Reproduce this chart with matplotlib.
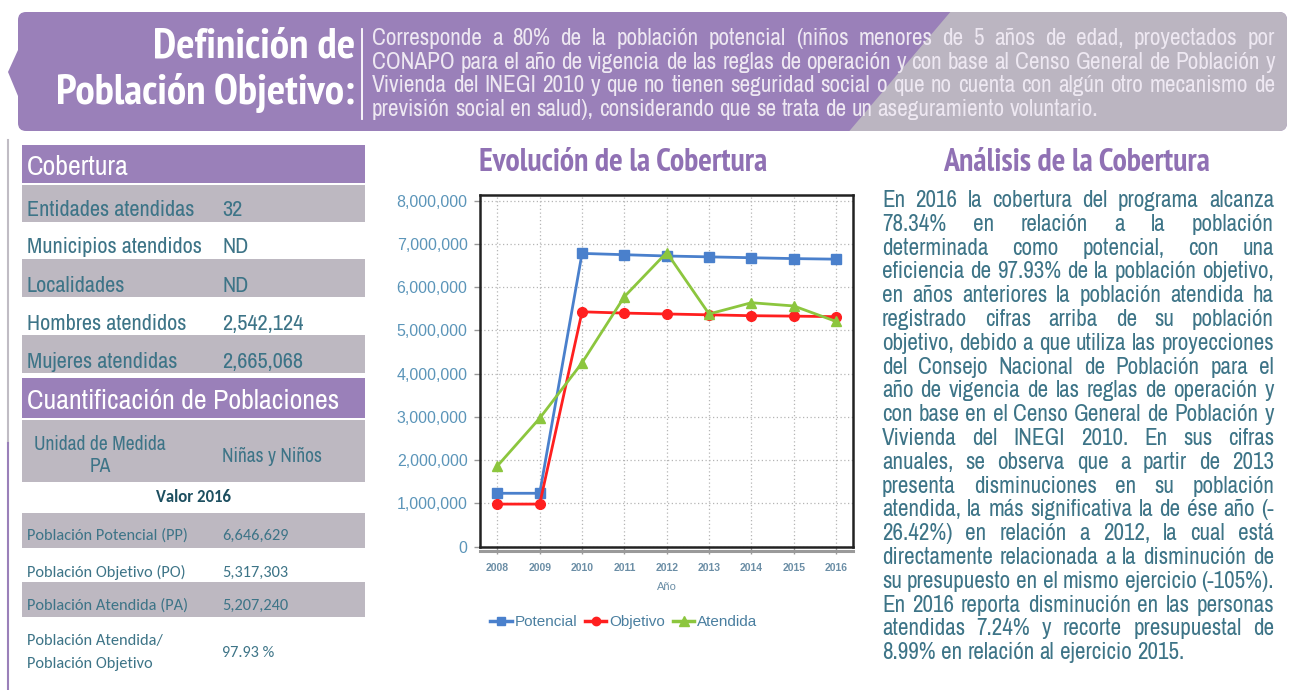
import matplotlib
matplotlib.use('Agg')
import matplotlib.pyplot as plt
from matplotlib import font_manager as fm
from matplotlib.font_manager import FontProperties
from matplotlib.patches import FancyBboxPatch, Polygon, Rectangle
from matplotlib.lines import Line2D
from matplotlib.ticker import FuncFormatter

# ---------------- data ----------------
years = [2008, 2009, 2010, 2011, 2012, 2013, 2014, 2015, 2016]
potencial = [1235000, 1235000, 6780000, 6750000, 6720000, 6700000, 6680000, 6660000, 6646629]
objetivo = [985000, 985000, 5430000, 5400000, 5380000, 5360000, 5340000, 5330000, 5317303]
atendida = [1866000, 2970000, 4250000, 5780000, 6800000, 5380000, 5640000, 5565000, 5207240]
series_names = ['Potencial', 'Objetivo', 'Atendida']
y_ticks = [0, 1000000, 2000000, 3000000, 4000000, 5000000, 6000000, 7000000, 8000000]

cobertura_labels = ['Entidades atendidas', 'Municipios atendidos', 'Localidades',
                    'Hombres atendidos', 'Mujeres atendidas']
cobertura_values = ['32', 'ND', 'ND', '2,542,124', '2,665,068']
cuant_labels = ['Población Potencial (PP)', 'Población Objetivo (PO)',
                'Población Atendida (PA)', 'Población Atendida/\nPoblación Objetivo']
cuant_values = ['6,646,629', '5,317,303', '5,207,240', '97.93 %']

header_title = ['Definición de', 'Población Objetivo:']
header_lines = [
    'Corresponde a 80% de la población potencial (niños menores de 5 años de edad, proyectados por',
    'CONAPO para el año de vigencia de las reglas de operación y con base al Censo General de Población y',
    'Vivienda del INEGI 2010 y que no tienen seguridad social o que no cuenta con algún otro mecanismo de',
    'previsión social en salud), considerando que se trata de un aseguramiento voluntario.',
]
analysis_lines = [
    'En 2016 la cobertura del programa alcanza',
    '78.34% en relación a la población',
    'determinada como potencial, con una',
    'eficiencia de 97.93% de la población objetivo,',
    'en años anteriores la población atendida ha',
    'registrado cifras arriba de su población',
    'objetivo, debido a que utiliza las proyecciones',
    'del Consejo Nacional de Población para el',
    'año de vigencia de las reglas de operación y',
    'con base en el Censo General de Población y',
    'Vivienda del INEGI 2010. En sus cifras',
    'anuales, se observa que a partir de 2013',
    'presenta disminuciones en su población',
    'atendida, la más significativa la de ése año (-',
    '26.42%) en relación a 2012, la cual está',
    'directamente relacionada a la disminución de',
    'su presupuesto en el mismo ejercicio (-105%).',
    'En 2016 reporta disminución en las personas',
    'atendidas 7.24% y recorte presupuestal de',
    '8.99% en relación al ejercicio 2015.',
]

# ---------------- fonts ----------------
def _w(v):
    if isinstance(v, (int, float)):
        return v
    return {'bold': 700, 'heavy': 800, 'black': 900, 'demibold': 600, 'semibold': 600}.get(str(v), 400)


fonts = {}
for f in fm.fontManager.ttflist:
    fonts.setdefault(f.name, set()).add(_w(f.weight))


def pick(*names, bold=False):
    for n in names:
        if n in fonts and (not bold or max(fonts[n]) >= 700):
            return n
    return 'DejaVu Sans'


NARROW_LIST = ('Liberation Sans Narrow', 'Arial Narrow', 'Archivo Narrow', 'PT Sans Narrow',
               'Roboto Condensed', 'IBM Plex Sans Condensed', 'Fira Sans Condensed',
               'Encode Sans Condensed', 'Liberation Sans')
NARROW = pick(*NARROW_LIST)
NARROW_B = pick(*NARROW_LIST, bold=True)
ARIAL = pick('Liberation Sans', 'Arimo', 'Roboto')
CALIBRI = pick('Carlito', 'Calibri', 'Lato', 'Open Sans')
CALIBRI_B = pick('Carlito', 'Calibri', 'Lato', 'Open Sans', bold=True)

# ---------------- colours ----------------
PURPLE = '#9a80b9'
GRAYROW = '#bdb8c1'
TEAL = '#3d7487'
HEADTXT = '#eee8f2'
TITLEPURPLE = '#9071b4'
BLUE = '#4a80cc'
RED = '#ff1f1f'
GREEN = '#8cc63e'
AXTXT = '#5b95b9'

W, H = 1290, 690
fig = plt.figure(figsize=(W / 100, H / 100), dpi=100)
bg = fig.add_axes([0, 0, 1, 1])
bg.set_xlim(0, W)
bg.set_ylim(H, 0)
bg.axis('off')
bg.set_zorder(0)
renderer = fig.canvas.get_renderer()


def width_of(s, size, family, weight='normal'):
    t = bg.text(0, 0, s, fontsize=size, family=family, weight=weight)
    w = t.get_window_extent(renderer).width
    t.remove()
    return w


def fit(s, target, family, weight='normal'):
    return 20.0 * target / width_of(s, 20.0, family, weight)


def justify(line, x0, x1, y, size, family, color, last=False):
    words = line.split()
    ws = [width_of(w, size, family) for w in words]
    if last or len(words) == 1:
        gap = width_of('a a', size, family) - width_of('aa', size, family)
    else:
        gap = (x1 - x0 - sum(ws)) / (len(words) - 1)
    x = x0
    for w, wd in zip(words, ws):
        bg.text(x, y, w, fontsize=size, family=family, color=color, va='baseline', ha='left')
        x += wd + gap


# ---------------- header ----------------
box = FancyBboxPatch((18, 12), 1287 - 18, 119, boxstyle='round,pad=0,rounding_size=8',
                     fc=PURPLE, ec='none', zorder=1)
bg.add_patch(box)
bg.add_patch(Polygon([(18, 50), (8, 72), (18, 96)], closed=True, fc=PURPLE, ec='none', zorder=1))
grey = Polygon([(952, 10), (1295, 10), (1295, 135), (846, 135)], closed=True, fc='#bbb5c1', ec='none', zorder=1.5)
bg.add_patch(grey)
grey.set_clip_path(box)

tsize = fit(header_title[1], 300, NARROW_B, 'bold')
tprop = FontProperties(family=NARROW_B, weight='bold', size=tsize)
_, lp_h, lp_d = renderer.get_text_width_height_descent('lp', tprop, ismath=False)
lsp = 36.0 / (lp_h - lp_d)
bg.text(355, 104, '\n'.join(header_title), fontproperties=tprop, color='white',
        ha='right', va='baseline', multialignment='right', linespacing=lsp, zorder=3)
bg.plot([362, 362], [29, 119], color='white', lw=1.3, zorder=3)

hsize = min(fit(l, 900, NARROW) for l in header_lines[:3])
for i, l in enumerate(header_lines):
    justify(l, 372, 1275, 45 + i * 23.6, hsize, NARROW, HEADTXT, last=(i == 3))

# ---------------- left panel ----------------
bg.plot([8, 8], [140, 443], color='#c0bcc4', lw=1.5)
bg.plot([8, 8], [443, 690], color=PURPLE, lw=1.5)

X0, X1 = 22, 365
bg.add_patch(Rectangle((X0, 145), X1 - X0, 38, fc=PURPLE, ec='none'))
hs = fit('Cuantificación de Poblaciones', 313, NARROW)
bg.text(27, 175, 'Cobertura', fontsize=hs, family=NARROW, color='white', va='baseline')

row_tops = [185, 222, 259, 297, 335]
row_bot = [222, 259, 297, 335, 373]
row_base = [216, 253, 292, 330, 368]
ls = fit('Entidades atendidas', 168, NARROW)
for i, (lab, val) in enumerate(zip(cobertura_labels, cobertura_values)):
    if i % 2 == 0:
        bg.add_patch(Rectangle((X0, row_tops[i]), X1 - X0, row_bot[i] - row_tops[i], fc=GRAYROW, ec='none'))
    bg.text(27, row_base[i], lab, fontsize=ls, family=NARROW, color=TEAL, va='baseline')
    bg.text(222, row_base[i], val, fontsize=ls, family=NARROW, color=TEAL, va='baseline')

bg.add_patch(Rectangle((X0, 378), X1 - X0, 40, fc=PURPLE, ec='none'))
bg.text(27, 409, 'Cuantificación de Poblaciones', fontsize=hs, family=NARROW, color='white', va='baseline')

bg.add_patch(Rectangle((X0, 420), X1 - X0, 62, fc=GRAYROW, ec='none'))
us = fit('Unidad de Medida', 132, NARROW)
bg.text(100, 450, 'Unidad de Medida', fontsize=us, family=NARROW, color=TEAL, va='baseline', ha='center')
bg.text(100, 472, 'PA', fontsize=us, family=NARROW, color=TEAL, va='baseline', ha='center')
bg.text(222, 462, 'Niñas y Niños', fontsize=fit('Niñas y Niños', 100, NARROW), family=NARROW,
        color=TEAL, va='baseline')
bg.text(194, 502, 'Valor 2016', fontsize=fit('Valor 2016', 75, CALIBRI_B, 'bold'), family=CALIBRI_B,
        weight='bold', color='#1d4f60', va='baseline', ha='center')

cs = fit('Población Potencial (PP)', 161, CALIBRI)
c_tops = [513, 548, 582]
c_bots = [548, 582, 617]
c_base = [540, 577, 610]
for i in range(3):
    if i % 2 == 0:
        bg.add_patch(Rectangle((X0, c_tops[i]), X1 - X0, c_bots[i] - c_tops[i], fc=GRAYROW, ec='none'))
    bg.text(27, c_base[i], cuant_labels[i], fontsize=cs, family=CALIBRI, color=TEAL, va='baseline')
    bg.text(222, c_base[i], cuant_values[i], fontsize=cs, family=CALIBRI, color=TEAL, va='baseline')
l1, l2 = cuant_labels[3].split('\n')
bg.text(27, 645, l1, fontsize=cs, family=CALIBRI, color=TEAL, va='baseline')
bg.text(27, 668, l2, fontsize=cs, family=CALIBRI, color=TEAL, va='baseline')
bg.text(222, 657, cuant_values[3], fontsize=cs, family=CALIBRI, color=TEAL, va='baseline')

# ---------------- titles ----------------
ts = fit('Evolución de la Cobertura', 290, NARROW_B, 'bold')
bg.text(623, 171, 'Evolución de la Cobertura', fontsize=ts, family=NARROW_B, weight='bold',
        color=TITLEPURPLE, ha='center', va='baseline')
bg.text(1077, 171, 'Análisis de la Cobertura', fontsize=ts, family=NARROW_B, weight='bold',
        color=TITLEPURPLE, ha='center', va='baseline')

# ---------------- analysis paragraph ----------------
asz = min(fit(l, 392, NARROW) for l in analysis_lines[:-1])
for i, l in enumerate(analysis_lines):
    justify(l, 882, 1274, 207 + i * 23.8, asz, NARROW, TEAL, last=(i == len(analysis_lines) - 1))

# ---------------- chart ----------------
ax = fig.add_axes([480 / W, 1 - 546.7 / H, (853 - 480) / W, (546.7 - 195) / H])
ax.set_zorder(2)
ax.set_facecolor('white')
ax.plot(years, potencial, color=BLUE, marker='s', ms=6.5, lw=2, label=series_names[0], zorder=3)
ax.plot(years, objetivo, color=RED, marker='o', ms=7, lw=2, label=series_names[1], zorder=3)
ax.plot(years, atendida, color=GREEN, marker='^', ms=7.5, lw=2, label=series_names[2], zorder=4)
ax.set_xlim(2007.59, 2016.40)
ax.set_ylim(0, 8.13e6)
ax.set_xticks(years)
ax.set_yticks(y_ticks)
ax.yaxis.set_major_formatter(FuncFormatter(lambda v, p: f'{int(v):,}'))
ax.grid(True, color='#b5b5b5', lw=0.9, ls=(0, (1, 2)))
for s in ax.spines.values():
    s.set_color('#222222')
    s.set_linewidth(1.8)
ax.tick_params(axis='y', labelsize=11.5, labelcolor=AXTXT, color='#999999', length=4, width=1,
               pad=5)
ax.tick_params(axis='x', labelsize=7.5, labelcolor='#6b8ea6', color='#999999', length=5, width=1,
               pad=7)
for lab in ax.get_xticklabels():
    lab.set_fontfamily(ARIAL)
    lab.set_fontweight('bold')
for lab in ax.get_yticklabels():
    lab.set_fontfamily(ARIAL)
ax.plot([0, 1], [-0.013, -0.013], transform=ax.transAxes, color='#9a9a9a', lw=2.2, clip_on=False)
ax.set_xlabel('Año', fontsize=8, color='#6b8ea6', family=ARIAL, labelpad=6)

handles = [Line2D([], [], color=BLUE, marker='s', ms=6, lw=2.5),
           Line2D([], [], color=RED, marker='o', ms=6, lw=2.5),
           Line2D([], [], color=GREEN, marker='^', ms=7, lw=2.5)]
leg = fig.legend(handles, series_names, loc='center', bbox_to_anchor=(624 / W, 1 - 622 / H), ncol=3,
                 frameon=False, handlelength=1.4, columnspacing=0.5, handletextpad=0.2,
                 prop={'family': ARIAL, 'size': 11})
for t in leg.get_texts():
    t.set_color('#4a7fa0')

fig.savefig('out.png', dpi=100)
